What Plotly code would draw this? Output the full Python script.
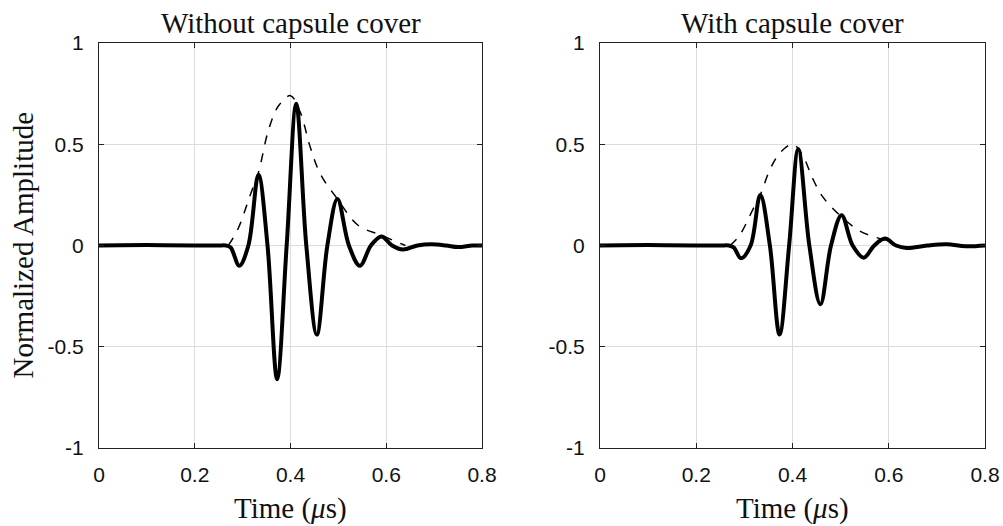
import plotly.graph_objects as go

# Waveform: extrema and zero crossings (time in us)
t_left = [0, 0.1, 0.2, 0.25, 0.265, 0.275, 0.293, 0.312, 0.333, 0.352, 0.372, 0.392, 0.412, 0.433,
          0.455, 0.477, 0.498, 0.522, 0.545, 0.568, 0.59, 0.612, 0.635, 0.665, 0.695,
          0.725, 0.75, 0.78, 0.8]
amp_left = [0, 0.002, 0, 0, 0, -0.01, -0.1, 0, 0.35, 0, -0.66, 0, 0.70, 0,
            -0.44, 0, 0.23, 0, -0.10, 0, 0.045, 0, -0.02, 0, 0.006,
            0, -0.008, 0, 0]

t_right = [0, 0.1, 0.2, 0.25, 0.268, 0.278, 0.293, 0.313, 0.333, 0.353, 0.373, 0.393, 0.412, 0.435,
           0.458, 0.48, 0.502, 0.525, 0.548, 0.57, 0.592, 0.615, 0.637, 0.68, 0.72,
           0.76, 0.8]
amp_right = [0, 0.002, 0, 0, 0, -0.01, -0.063, 0, 0.25, 0, -0.44, 0, 0.475, 0,
             -0.29, 0, 0.15, 0, -0.06, 0, 0.034, 0, -0.012, 0, 0.006,
             -0.004, 0]

# Envelopes (dashed)
t_env_left = [0.27, 0.29, 0.316, 0.333, 0.354, 0.375, 0.40, 0.42, 0.442, 0.463, 0.498, 0.541, 0.59, 0.64]
env_left = [0, 0.08, 0.25, 0.36, 0.57, 0.69, 0.74, 0.66, 0.48, 0.35, 0.23, 0.10, 0.05, 0.0]
t_env_right = [0.27, 0.29, 0.316, 0.333, 0.354, 0.375, 0.40, 0.42, 0.442, 0.463, 0.498, 0.541, 0.58, 0.61]
env_right = [0, 0.05, 0.17, 0.25, 0.38, 0.46, 0.50, 0.45, 0.33, 0.24, 0.15, 0.07, 0.035, 0.015]

titles = ['Without capsule cover', 'With capsule cover']
x_ticks = [0, 0.2, 0.4, 0.6, 0.8]
y_ticks = [-1, -0.5, 0, 0.5, 1]
y_ticktext = ['-1', '-0.5', '0', '0.5', '1']

W, H = 1003, 526
L, R, T, B = 99, 18, 43, 78
pw = W - L - R
dom_left = [0, (482 - L) / pw]
dom_right = [(600 - L) / pw, 1]

fig = go.Figure()
fig.add_trace(go.Scatter(x=t_left, y=amp_left, mode='lines', line=dict(color='black', width=4, shape='spline', smoothing=1.0),
                         xaxis='x', yaxis='y'))
fig.add_trace(go.Scatter(x=t_env_left, y=env_left, mode='lines', line=dict(color='black', width=1.5, dash='dash', shape='spline'),
                         xaxis='x', yaxis='y'))
fig.add_trace(go.Scatter(x=t_right, y=amp_right, mode='lines', line=dict(color='black', width=4, shape='spline', smoothing=1.0),
                         xaxis='x2', yaxis='y2'))
fig.add_trace(go.Scatter(x=t_env_right, y=env_right, mode='lines', line=dict(color='black', width=1.5, dash='dash', shape='spline'),
                         xaxis='x2', yaxis='y2'))

tick_font = dict(family='Liberation Sans, Arial', size=21, color='#111')
xax = dict(range=[0, 0.8], tickvals=x_ticks, ticktext=['0', '0.2', '0.4', '0.6', '0.8'],
           showgrid=True, gridcolor='#dcdcdc', gridwidth=1, zeroline=False,
           showline=True, linecolor='#222', linewidth=1, mirror='ticks', automargin=False,
           ticks='inside', ticklen=5, tickcolor='#222', tickfont=tick_font, ticklabelstandoff=8)
yax = dict(range=[-1, 1], tickvals=y_ticks, ticktext=y_ticktext,
           showgrid=True, gridcolor='#dcdcdc', gridwidth=1, zeroline=False,
           showline=True, linecolor='#222', linewidth=1, mirror='ticks', automargin=False,
           ticks='inside', ticklen=5, tickcolor='#222', tickfont=tick_font, ticklabelstandoff=10)

fig.update_layout(
    width=W, height=H,
    margin=dict(l=L, r=R, t=T, b=B, autoexpand=False),
    paper_bgcolor='white', plot_bgcolor='white',
    showlegend=False,
    xaxis=dict(xax, domain=dom_left, anchor='y'),
    yaxis=dict(yax, domain=[0, 1], anchor='x'),
    xaxis2=dict(xax, domain=dom_right, anchor='y2'),
    yaxis2=dict(yax, domain=[0, 1], anchor='x2'),
)

serif = dict(family='Liberation Serif, Times New Roman', size=29, color='#111')
for dom, title in zip([dom_left, dom_right], titles):
    mid = (dom[0] + dom[1]) / 2
    fig.add_annotation(text=title, x=mid, y=1, xref='paper', yref='paper', xanchor='center', yanchor='bottom',
                       yshift=2, showarrow=False, font=serif)
    fig.add_annotation(text='Time (<i>μ</i>s)', x=mid, y=0, xref='paper', yref='paper', xanchor='center',
                       yanchor='middle', yshift=-60, showarrow=False, font=serif)

fig.add_annotation(text='Normalized Amplitude', x=(22 - L) / pw, y=0.5, xref='paper', yref='paper',
                   xanchor='center', yanchor='middle', textangle=-90, showarrow=False, font=serif)

# drop the page's default body margin so the figure fills the window
fig.write_html('out.html', config={'displayModeBar': False},
               post_script="document.body.style.margin='0px';")
